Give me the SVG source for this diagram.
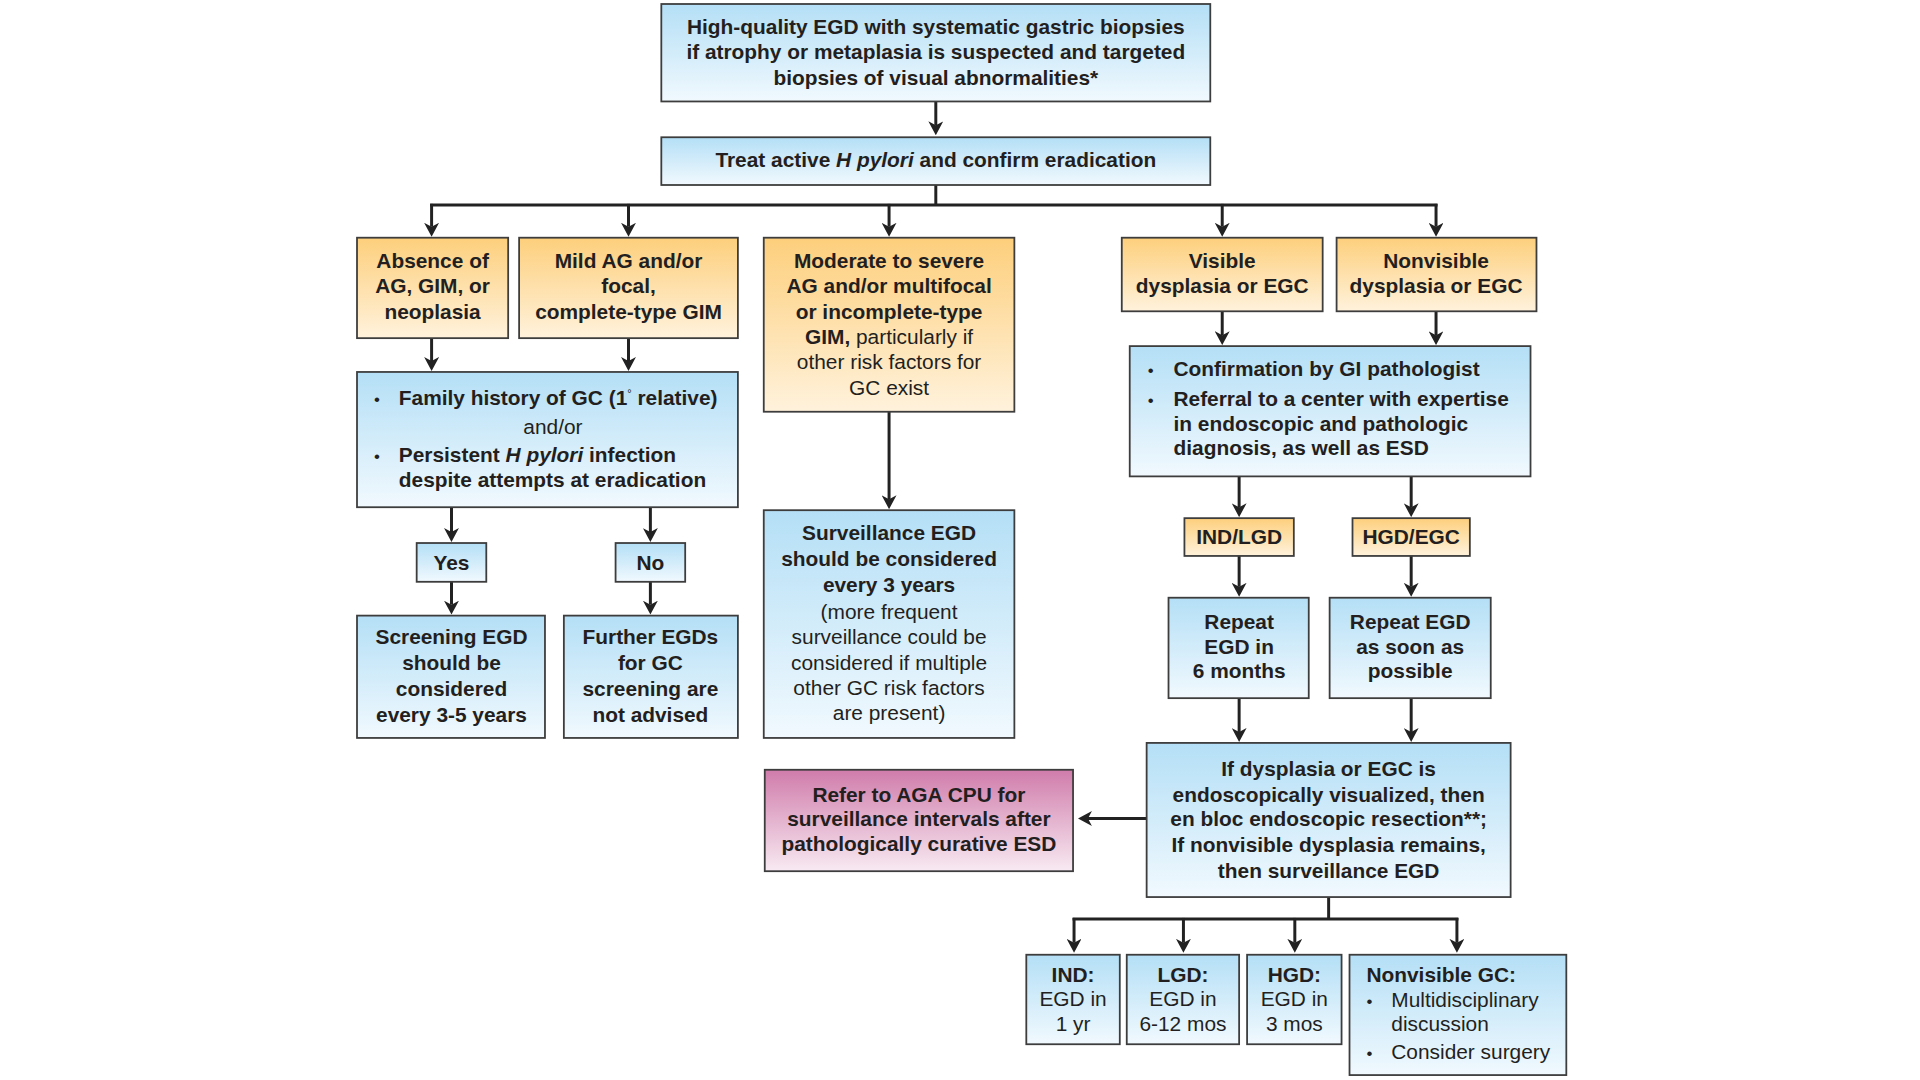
<svg xmlns="http://www.w3.org/2000/svg" width="1920" height="1080" viewBox="0 0 1920 1080">
<defs>
<linearGradient id="gb" x1="0" y1="0" x2="0" y2="1"><stop offset="0" stop-color="#b4dff6"/><stop offset="1" stop-color="#f1f9fe"/></linearGradient>
<linearGradient id="go" x1="0" y1="0" x2="0" y2="1"><stop offset="0" stop-color="#fdcf7c"/><stop offset="1" stop-color="#fff2dc"/></linearGradient>
<linearGradient id="gm" x1="0" y1="0" x2="0" y2="1"><stop offset="0" stop-color="#d07cab"/><stop offset="1" stop-color="#f8eaf2"/></linearGradient>
<marker id="ah" viewBox="0 0 14 15" markerWidth="14" markerHeight="15" refX="4" refY="7.5" orient="auto" markerUnits="userSpaceOnUse"><path d="M0,0 L14,7.5 L0,15 L4,7.5 Z" fill="#222"/></marker>
<style>
.b{fill:url(#gb);stroke:#3d3d3d;stroke-width:1.8}
.o{fill:url(#go);stroke:#3d3d3d;stroke-width:1.8}
.m{fill:url(#gm);stroke:#3d3d3d;stroke-width:1.8}
text{font-family:"Liberation Sans",Arial,Helvetica,sans-serif;font-size:21px;fill:#231f20}
.c{text-anchor:middle}
.bd{font-weight:bold}
.bu{font-size:17px}
.ln{stroke:#222;stroke-width:3;fill:none}
.ar{stroke:#222;stroke-width:3;fill:none;marker-end:url(#ah)}
</style>
</defs>
<rect width="1920" height="1080" fill="#ffffff"/>
<g transform="translate(1.97,0.02) scale(0.9945)">

<g id="connectors">
<line class="ar" x1="939" y1="102" x2="939" y2="126"/>
<line class="ln" x1="939" y1="186" x2="939" y2="207"/>
<line class="ln" x1="430.5" y1="206" x2="1443.5" y2="206"/>
<line class="ar" x1="432" y1="205" x2="432" y2="228"/>
<line class="ar" x1="630" y1="205" x2="630" y2="228"/>
<line class="ar" x1="892" y1="205" x2="892" y2="228"/>
<line class="ar" x1="1227" y1="205" x2="1227" y2="228"/>
<line class="ar" x1="1442" y1="205" x2="1442" y2="228"/>
<line class="ar" x1="432" y1="340" x2="432" y2="363"/>
<line class="ar" x1="630" y1="340" x2="630" y2="363"/>
<line class="ar" x1="892" y1="414" x2="892" y2="502"/>
<line class="ar" x1="1227" y1="313" x2="1227" y2="337"/>
<line class="ar" x1="1442" y1="313" x2="1442" y2="337"/>
<line class="ar" x1="452" y1="510" x2="452" y2="535"/>
<line class="ar" x1="652" y1="510" x2="652" y2="535"/>
<line class="ar" x1="452" y1="585" x2="452" y2="608"/>
<line class="ar" x1="652" y1="585" x2="652" y2="608"/>
<line class="ar" x1="1244" y1="479" x2="1244" y2="510"/>
<line class="ar" x1="1417" y1="479" x2="1417" y2="510"/>
<line class="ar" x1="1244" y1="559" x2="1244" y2="590"/>
<line class="ar" x1="1417" y1="559" x2="1417" y2="590"/>
<line class="ar" x1="1244" y1="702" x2="1244" y2="736"/>
<line class="ar" x1="1417" y1="702" x2="1417" y2="736"/>
<line class="ar" x1="1151" y1="823" x2="1092" y2="823"/>
<line class="ln" x1="1334" y1="902" x2="1334" y2="925"/>
<line class="ln" x1="1076.5" y1="924" x2="1464.5" y2="924"/>
<line class="ar" x1="1078" y1="923" x2="1078" y2="948"/>
<line class="ar" x1="1188" y1="923" x2="1188" y2="948"/>
<line class="ar" x1="1300" y1="923" x2="1300" y2="948"/>
<line class="ar" x1="1463" y1="923" x2="1463" y2="948"/>
</g>

<g id="n-egd">
<rect class="b" x="663" y="4" width="552" height="98"/>
<text class="c bd" x="939" y="34">High-quality EGD with systematic gastric biopsies</text>
<text class="c bd" x="939" y="59">if atrophy or metaplasia is suspected and targeted</text>
<text class="c bd" x="939" y="85">biopsies of visual abnormalities*</text>
</g>

<g id="n-treat">
<rect class="b" x="663" y="138" width="552" height="48"/>
<text class="c bd" x="939" y="168">Treat active <tspan font-style="italic">H pylori</tspan> and confirm eradication</text>
</g>

<g id="n-absence">
<rect class="o" x="357" y="239" width="152" height="101"/>
<text class="c bd" x="433" y="269">Absence of</text>
<text class="c bd" x="433" y="295">AG, GIM, or</text>
<text class="c bd" x="433" y="321">neoplasia</text>
</g>

<g id="n-mild">
<rect class="o" x="520" y="239" width="220" height="101"/>
<text class="c bd" x="630" y="269">Mild AG and/or</text>
<text class="c bd" x="630" y="295">focal,</text>
<text class="c bd" x="630" y="321">complete-type GIM</text>
</g>

<g id="n-moderate">
<rect class="o" x="766" y="239" width="252" height="175"/>
<text class="c bd" x="892" y="269">Moderate to severe</text>
<text class="c bd" x="892" y="295">AG and/or multifocal</text>
<text class="c bd" x="892" y="321">or incomplete-type</text>
<text class="c" x="892" y="346"><tspan font-weight="bold">GIM,</tspan> particularly if</text>
<text class="c" x="892" y="371">other risk factors for</text>
<text class="c" x="892" y="397">GC exist</text>
</g>

<g id="n-visible">
<rect class="o" x="1126" y="239" width="202" height="74"/>
<text class="c bd" x="1227" y="269">Visible</text>
<text class="c bd" x="1227" y="295">dysplasia or EGC</text>
</g>

<g id="n-nonvisible">
<rect class="o" x="1342" y="239" width="201" height="74"/>
<text class="c bd" x="1442" y="269">Nonvisible</text>
<text class="c bd" x="1442" y="295">dysplasia or EGC</text>
</g>

<g id="n-family">
<rect class="b" x="357" y="374" width="383" height="136"/>
<text class="bu" x="374" y="407">•</text>
<text class="bd" x="399" y="407">Family history of GC (1<tspan font-size="11" font-weight="normal" dy="-8">°</tspan><tspan dy="8"> relative)</tspan></text>
<text class="c" x="554" y="436">and/or</text>
<text class="bu" x="374" y="465">•</text>
<text class="bd" x="399" y="465">Persistent <tspan font-style="italic">H pylori</tspan> infection</text>
<text class="bd" x="399" y="490">despite attempts at eradication</text>
</g>

<g id="n-yes">
<rect class="b" x="417" y="546" width="70" height="39"/>
<text class="c bd" x="452" y="573">Yes</text>
</g>

<g id="n-no">
<rect class="b" x="617" y="546" width="70" height="39"/>
<text class="c bd" x="652" y="573">No</text>
</g>

<g id="n-screening">
<rect class="b" x="357" y="619" width="189" height="123"/>
<text class="c bd" x="452" y="648">Screening EGD</text>
<text class="c bd" x="452" y="674">should be</text>
<text class="c bd" x="452" y="700">considered</text>
<text class="c bd" x="452" y="726">every 3-5 years</text>
</g>

<g id="n-further">
<rect class="b" x="565" y="619" width="175" height="123"/>
<text class="c bd" x="652" y="648">Further EGDs</text>
<text class="c bd" x="652" y="674">for GC</text>
<text class="c bd" x="652" y="700">screening are</text>
<text class="c bd" x="652" y="726">not advised</text>
</g>

<g id="n-surveillance">
<rect class="b" x="766" y="513" width="252" height="229"/>
<text class="c bd" x="892" y="543">Surveillance EGD</text>
<text class="c bd" x="892" y="569">should be considered</text>
<text class="c bd" x="892" y="595">every 3 years</text>
<text class="c" x="892" y="622">(more frequent</text>
<text class="c" x="892" y="648">surveillance could be</text>
<text class="c" x="892" y="674">considered if multiple</text>
<text class="c" x="892" y="699">other GC risk factors</text>
<text class="c" x="892" y="724">are present)</text>
</g>

<g id="n-confirm">
<rect class="b" x="1134" y="348" width="403" height="131"/>
<text class="bu" x="1152" y="378">•</text>
<text class="bd" x="1178" y="378">Confirmation by GI pathologist</text>
<text class="bu" x="1152" y="408">•</text>
<text class="bd" x="1178" y="408">Referral to a center with expertise</text>
<text class="bd" x="1178" y="433">in endoscopic and pathologic</text>
<text class="bd" x="1178" y="458">diagnosis, as well as ESD</text>
</g>

<g id="n-indlgd">
<rect class="o" x="1189" y="521" width="110" height="38"/>
<text class="c bd" x="1244" y="547">IND/LGD</text>
</g>

<g id="n-hgdegc">
<rect class="o" x="1358" y="521" width="118" height="38"/>
<text class="c bd" x="1417" y="547">HGD/EGC</text>
</g>

<g id="n-repeat6">
<rect class="b" x="1173" y="601" width="141" height="101"/>
<text class="c bd" x="1244" y="632">Repeat</text>
<text class="c bd" x="1244" y="658">EGD in</text>
<text class="c bd" x="1244" y="682">6 months</text>
</g>

<g id="n-repeatasap">
<rect class="b" x="1335" y="601" width="162" height="101"/>
<text class="c bd" x="1416" y="632">Repeat EGD</text>
<text class="c bd" x="1416" y="658">as soon as</text>
<text class="c bd" x="1416" y="682">possible</text>
</g>

<g id="n-resection">
<rect class="b" x="1151" y="747" width="366" height="155"/>
<text class="c bd" x="1334" y="780">If dysplasia or EGC is</text>
<text class="c bd" x="1334" y="806">endoscopically visualized, then</text>
<text class="c bd" x="1334" y="831">en bloc endoscopic resection**;</text>
<text class="c bd" x="1334" y="857">If nonvisible dysplasia remains,</text>
<text class="c bd" x="1334" y="883">then surveillance EGD</text>
</g>

<g id="n-refer">
<rect class="m" x="767" y="774" width="310" height="102"/>
<text class="c bd" x="922" y="806">Refer to AGA CPU for</text>
<text class="c bd" x="922" y="831">surveillance intervals after</text>
<text class="c bd" x="922" y="856">pathologically curative ESD</text>
</g>

<g id="n-ind">
<rect class="b" x="1030" y="960" width="94" height="90"/>
<text class="c bd" x="1077" y="987">IND:</text>
<text class="c" x="1077" y="1012">EGD in</text>
<text class="c" x="1077" y="1037">1 yr</text>
</g>

<g id="n-lgd">
<rect class="b" x="1131" y="960" width="113" height="90"/>
<text class="c bd" x="1187.5" y="987">LGD:</text>
<text class="c" x="1187.5" y="1012">EGD in</text>
<text class="c" x="1187.5" y="1037">6-12 mos</text>
</g>

<g id="n-hgd">
<rect class="b" x="1252" y="960" width="95" height="90"/>
<text class="c bd" x="1299.5" y="987">HGD:</text>
<text class="c" x="1299.5" y="1012">EGD in</text>
<text class="c" x="1299.5" y="1037">3 mos</text>
</g>

<g id="n-nvgc">
<rect class="b" x="1355" y="960" width="218" height="121"/>
<text class="bd" x="1372" y="987">Nonvisible GC:</text>
<text class="bu" x="1372" y="1013">•</text>
<text x="1397" y="1013">Multidisciplinary</text>
<text x="1397" y="1037">discussion</text>
<text class="bu" x="1372" y="1065">•</text>
<text x="1397" y="1065">Consider surgery</text>
</g>
</g>
</svg>
